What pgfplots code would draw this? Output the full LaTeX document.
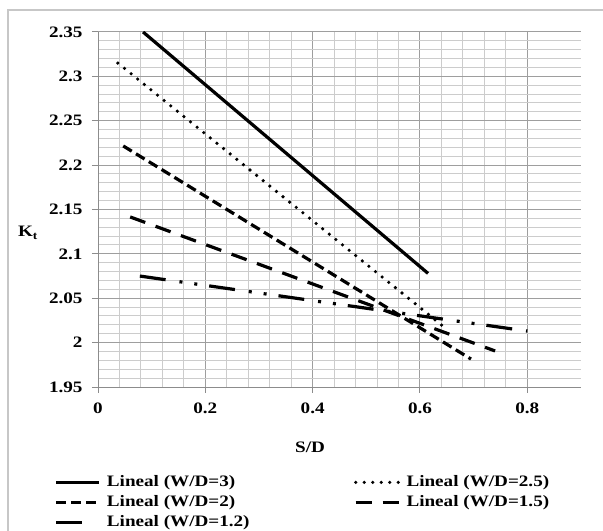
\documentclass[border=0pt]{standalone}
\usepackage{fontspec}
\setmainfont{Liberation Serif}[FakeStretch=1.2]
\usepackage{pgfplots}
\pgfplotsset{compat=1.18}
\newcommand{\chfont}{\bfseries\fontsize{16}{18}\selectfont}
\begin{document}
\begin{tikzpicture}
\useasboundingbox (0,0) rectangle (603bp,531bp);
\draw[black!22, line width=1.5bp] (8bp,-5bp) -- (8bp,521bp) -- (610bp,521bp);
\begin{axis}[
  at={(98bp,144bp)}, anchor=south west,
  scale only axis, width=483bp, height=355bp,
  xmin=0, xmax=0.9, ymin=1.95, ymax=2.35,
  xtick={0,0.2,0.4,0.6,0.8},
  ytick={1.95,2,2.05,2.1,2.15,2.2,2.25,2.3,2.35},
  minor x tick num=4, minor y tick num=4,
  grid=both,
  axis x line*=bottom, axis y line*=left,
  tick align=outside, major tick length=6bp, minor tick length=0pt,
  tick style={black!45, line width=1bp},
  axis line style={black!45, line width=1bp},
  major grid style={black!38, line width=1bp},
  minor grid style={black!20, line width=1bp},
  ticklabel style={font=\chfont},
  /pgf/number format/assume math mode=true,
  yticklabel style={xshift=-6bp},
  xticklabel style={yshift=-6bp},
  legend columns=2,
  legend cell align=left,
  legend style={draw=none, fill=none, at={(axis description cs:-0.09,-0.24)}, anchor=north west,
    font=\chfont, row sep=0bp, inner sep=0pt,
    nodes={inner sep=2bp, text height=12bp, text depth=4bp},
    /tikz/every odd column/.append style={column sep=4bp}},
  legend image code/.code={\draw[#1] (0bp,0bp) -- (43bp,0bp);},
]
\addplot[black, line width=3.2bp] coordinates {(0.084,2.35) (0.615,2.078)};
\addlegendentry{\makebox[245bp][l]{Lineal (W/D=3)}}
\addplot[black, line width=3.6bp, line cap=round, dash pattern=on 0bp off 8.5bp] coordinates {(0.037,2.315) (0.65,2.015)};
\addlegendentry{Lineal (W/D=2.5)}
\addplot[black, line width=3.2bp, dash pattern=on 10bp off 5bp] coordinates {(0.047,2.2216) (0.695,1.9815)};
\addlegendentry{\makebox[245bp][l]{Lineal (W/D=2)}}
\addplot[black, line width=3.2bp, dash pattern=on 16bp off 11bp] coordinates {(0.06,2.1416) (0.74,1.9906)};
\addlegendentry{Lineal (W/D=1.5)}
\addplot[black, line width=3.2bp, dash pattern=on 26bp off 14bp on 3bp off 12bp on 3bp off 12bp,
  legend image code/.code={\draw[black, solid, line width=3.2bp] (0bp,0bp) -- (26bp,0bp); \path[draw=none] (0bp,0bp) -- (43bp,0bp);}]
  coordinates {(0.078,2.075) (0.8,2.013)};
\addlegendentry{\makebox[245bp][l]{Lineal (W/D=1.2)}}
\end{axis}
\node[font=\chfont] at (310bp,84bp) {S/D};
\node[font=\chfont] at (28bp,298bp) {K\textsubscript{t}};
\end{tikzpicture}
\end{document}
